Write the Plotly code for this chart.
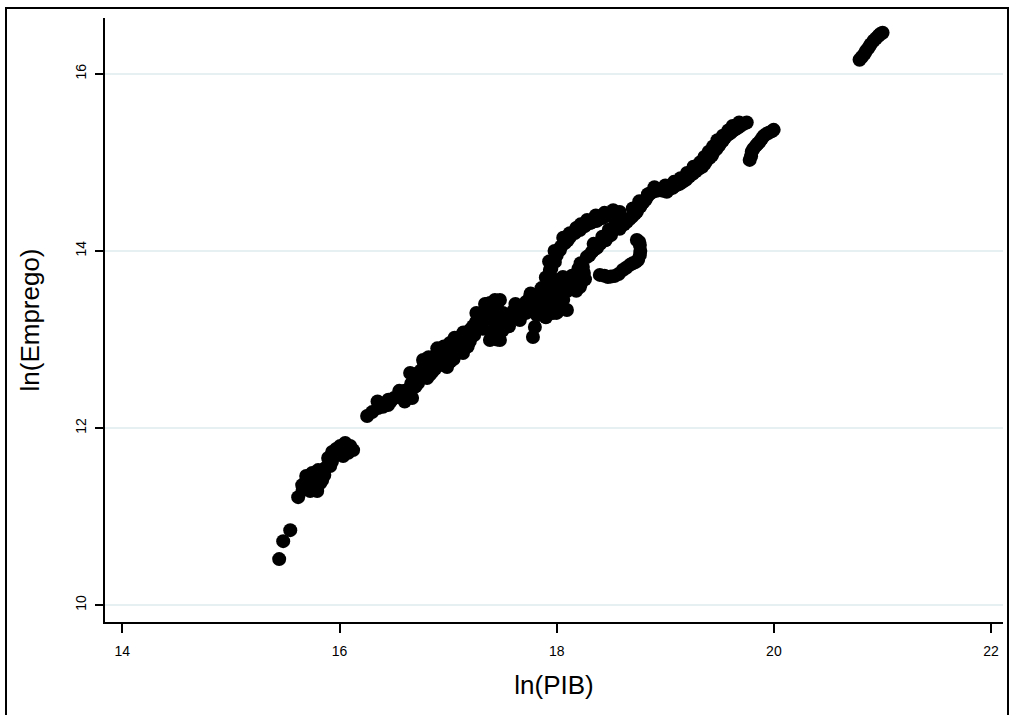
import plotly.graph_objects as go

# ln(PIB) values (x) and ln(Emprego) values (y)
ln_pib = [
    # lower-left group
    15.444, 15.481, 15.546, 15.619, 15.656, 15.693, 15.730, 15.794, 15.748, 15.803,
    15.868, 15.840, 15.914, 15.895, 15.932, 15.969, 16.006, 16.052, 16.098, 16.125,
    16.033, 15.822, 15.660, 15.700, 15.760, 15.780, 15.860, 15.930, 15.980, 16.050,
    16.080, 15.750, 15.850,
    # main band
    16.254, 16.355, 16.447, 16.502, 16.576, 16.622, 16.668, 16.677, 16.723, 16.650,
    16.769, 16.806, 16.852, 16.898, 16.926, 16.990, 16.971, 17.017, 17.063, 17.109,
    17.137, 17.156, 17.201, 17.257, 17.321, 17.385, 17.431, 17.477, 17.505, 17.385,
    17.477, 17.431, 17.551, 17.597, 17.661, 17.717, 17.753, 17.781, 17.799, 17.818,
    17.845, 17.891, 17.937, 17.910, 17.965, 18.002, 18.002, 18.057, 18.094, 18.149,
    18.213, 18.213, 18.241, 17.937, 17.983, 18.029, 18.075, 18.121, 18.167, 18.213,
    18.259, 18.305, 18.370, 18.425, 18.471, 18.517, 18.563, 18.609,
    16.300, 16.400, 16.470, 16.550, 16.600, 16.630, 16.700, 16.730, 16.680, 16.750,
    16.780, 16.830, 16.860, 16.880, 16.920, 16.950, 17.000, 17.030, 17.050, 17.080,
    17.100, 17.120, 17.180, 17.200, 17.230, 17.280, 17.300, 17.350, 17.400, 17.450,
    17.360, 17.420, 17.400, 17.450, 17.520, 17.550, 17.600, 17.640, 17.680, 17.700,
    17.740, 17.780, 17.800, 17.820, 17.850, 17.880, 17.920, 17.950, 17.980, 18.020,
    18.050, 18.080, 18.120, 18.170, 18.200, 18.250, 17.900, 17.950, 18.000, 18.040,
    18.100, 18.250, 18.320, 18.400, 18.480, 18.550, 18.600,
    16.350, 16.450, 16.550, 16.600, 16.660, 16.720, 16.780, 16.820, 16.900, 16.960,
    17.020, 17.060, 17.140, 17.180, 17.240, 17.260, 17.320, 17.340, 17.380, 17.460,
    17.500, 17.560, 17.620, 17.660, 17.720, 17.760, 17.840, 17.860, 17.900, 17.960,
    18.000, 18.060, 18.100, 18.140, 18.180, 18.220, 18.260, 17.930, 17.980, 18.060,
    18.120, 18.180, 18.220, 18.280, 18.360, 18.440, 18.520, 18.580,
    # lower branch of the loop
    18.278, 18.324, 18.370, 18.416, 18.462, 18.508, 18.554,
    18.300, 18.350, 18.400, 18.450, 18.500, 18.580, 18.620,
    18.340, 18.420, 18.480, 18.540, 18.600,
    # hook
    18.397, 18.471, 18.536, 18.609, 18.674, 18.729, 18.766, 18.766, 18.738,
    18.440, 18.500, 18.570, 18.640, 18.700, 18.750, 18.770, 18.760, 18.200, 18.220,
    # upper band
    18.646, 18.692, 18.738, 18.793, 18.839, 18.885, 18.949, 19.014, 19.069, 19.133,
    19.189, 19.253, 19.308, 19.363, 19.409, 19.446, 19.492, 19.529, 19.575, 19.621,
    19.667, 19.722,
    18.670, 18.720, 18.770, 18.820, 18.860, 18.920, 18.980, 19.040, 19.100, 19.160,
    19.220, 19.280, 19.340, 19.380, 19.430, 19.470, 19.510, 19.550, 19.600, 19.640,
    19.690, 19.750,
    18.700, 18.760, 18.840, 18.900, 19.000, 19.080, 19.140, 19.200, 19.260, 19.320,
    19.360, 19.400, 19.440, 19.480, 19.530, 19.580, 19.620, 19.680,
    # right branch
    19.777, 19.796, 19.833, 19.869, 19.906, 19.952, 19.998,
    19.790, 19.810, 19.850, 19.890, 19.930, 19.980,
    # top group
    20.789, 20.835, 20.872, 20.918, 20.964, 21.001,
    20.810, 20.850, 20.890, 20.940, 20.980,
]
ln_emprego = [
    # lower-left group
    10.520, 10.723, 10.847, 11.220, 11.356, 11.458, 11.288, 11.288, 11.492, 11.525,
    11.548, 11.412, 11.571, 11.661, 11.729, 11.763, 11.797, 11.831, 11.797, 11.751,
    11.684, 11.378, 11.300, 11.380, 11.400, 11.460, 11.470, 11.620, 11.700, 11.740,
    11.720, 11.330, 11.500,
    # main band
    12.136, 12.226, 12.260, 12.339, 12.373, 12.395, 12.339, 12.452, 12.508, 12.621,
    12.768, 12.565, 12.633, 12.847, 12.712, 12.689, 12.825, 12.960, 12.881, 13.028,
    12.847, 12.938, 13.107, 13.198, 13.299, 13.412, 13.446, 13.446, 13.299, 12.994,
    12.994, 13.107, 13.198, 13.254, 13.367, 13.424, 13.480, 13.028, 13.141, 13.277,
    13.446, 13.503, 13.593, 13.333, 13.299, 13.412, 13.672, 13.706, 13.333, 13.672,
    13.593, 13.706, 13.819, 13.785, 13.876, 14.011, 14.090, 14.158, 14.203, 14.237,
    14.282, 14.316, 14.339, 14.373, 14.418, 14.429, 14.384, 14.350,
    12.180, 12.240, 12.300, 12.350, 12.420, 12.360, 12.470, 12.560, 12.600, 12.650,
    12.720, 12.600, 12.750, 12.670, 12.800, 12.740, 12.850, 12.920, 12.780, 12.970,
    12.900, 12.960, 13.050, 12.980, 13.150, 13.240, 13.180, 13.350, 13.300, 13.400,
    13.400, 13.200, 13.050, 13.000, 13.220, 13.280, 13.320, 13.280, 13.380, 13.330,
    13.420, 13.450, 13.380, 13.500, 13.350, 13.420, 13.550, 13.470, 13.520, 13.550,
    13.620, 13.600, 13.650, 13.620, 13.660, 13.750, 13.700, 13.800, 13.950, 14.050,
    14.120, 14.280, 14.320, 14.370, 14.400, 14.410, 14.370,
    12.300, 12.320, 12.420, 12.300, 12.500, 12.620, 12.580, 12.800, 12.900, 12.920,
    12.750, 13.020, 13.080, 12.920, 13.050, 13.300, 13.120, 13.400, 13.250, 13.150,
    13.100, 13.150, 13.400, 13.220, 13.300, 13.520, 13.280, 13.580, 13.250, 13.400,
    13.300, 13.450, 13.550, 13.720, 13.550, 13.620, 13.680, 13.880, 14.000, 14.150,
    14.200, 14.260, 14.300, 14.350, 14.400, 14.430, 14.460, 14.440,
    # lower branch of the loop
    13.932, 13.989, 14.034, 14.102, 14.147, 14.215, 14.260,
    13.950, 14.020, 14.080, 14.120, 14.180, 14.250, 14.300,
    14.080, 14.160, 14.240, 14.300, 14.360,
    # hook
    13.729, 13.706, 13.718, 13.785, 13.842, 13.876, 13.955, 14.068, 14.124,
    13.720, 13.710, 13.740, 13.810, 13.860, 13.900, 14.000, 14.100, 13.800, 13.860,
    # upper band
    14.328, 14.384, 14.441, 14.542, 14.621, 14.667, 14.689, 14.667, 14.712, 14.757,
    14.802, 14.870, 14.927, 14.983, 15.051, 15.119, 15.186, 15.243, 15.311, 15.356,
    15.390, 15.435,
    14.360, 14.420, 14.500, 14.580, 14.650, 14.680, 14.680, 14.700, 14.740, 14.780,
    14.840, 14.900, 14.950, 15.020, 15.080, 15.150, 15.220, 15.280, 15.330, 15.370,
    15.410, 15.450,
    14.480, 14.560, 14.640, 14.720, 14.740, 14.780, 14.820, 14.880, 14.950, 15.000,
    15.060, 15.120, 15.180, 15.250, 15.300, 15.360, 15.410, 15.450,
    # right branch
    15.028, 15.119, 15.186, 15.232, 15.299, 15.333, 15.367,
    15.070, 15.150, 15.210, 15.270, 15.320, 15.350,
    # top group
    16.158, 16.226, 16.294, 16.373, 16.429, 16.463,
    16.190, 16.260, 16.330, 16.400, 16.450,
]

x_ticks = [14, 16, 18, 20, 22]
y_ticks = [10, 12, 14, 16]
x_title = "ln(PIB)"
y_title = "ln(Emprego)"

fig = go.Figure()
fig.add_trace(go.Scatter(
    x=ln_pib, y=ln_emprego, mode="markers",
    marker=dict(size=14, color="black", line=dict(width=0)),
    showlegend=False, hoverinfo="x+y",
))

font = "Liberation Sans, Arial, sans-serif"
fig.update_layout(
    width=1009, height=715,
    margin=dict(l=105, r=6, t=18, b=93),
    paper_bgcolor="white", plot_bgcolor="white",
    font=dict(family=font, color="black"),
    xaxis=dict(
        range=[13.84, 22.11], tickvals=x_ticks, ticktext=[str(t) for t in x_ticks],
        showgrid=False, zeroline=False,
        showline=True, linecolor="black", linewidth=1.5,
        ticks="outside", ticklen=9, tickcolor="black", tickwidth=1.5,
        tickfont=dict(size=14, family=font, color="black"),
        ticklabelstandoff=6,
        title=dict(text=x_title, font=dict(size=26, family=font, color="black"), standoff=18),
        automargin=False,
    ),
    yaxis=dict(
        range=[9.81, 16.63], tickvals=y_ticks, ticktext=[str(t) for t in y_ticks],
        showgrid=True, gridcolor="#e6eff1", gridwidth=2, zeroline=False,
        showline=True, linecolor="black", linewidth=1.5,
        ticks="outside", ticklen=8, tickcolor="black", tickwidth=1.5,
        tickangle=-90,
        tickfont=dict(size=14, family=font, color="black"),
        ticklabelstandoff=4,
        title=dict(text=y_title, font=dict(size=26, family=font, color="black"), standoff=26),
        automargin=False,
    ),
    shapes=[dict(
        type="rect", xref="paper", yref="paper",
        x0=(6 - 105) / 898, x1=(1008 - 105) / 898,
        y0=(622 - 720) / 604, y1=1 + (18 - 8) / 604,
        line=dict(color="black", width=2), fillcolor="rgba(0,0,0,0)", layer="above",
    )],
)

fig.write_html(
    "out.html",
    config={"displayModeBar": False},
    post_script="document.body.style.margin='0';document.body.style.padding='0';",
)
